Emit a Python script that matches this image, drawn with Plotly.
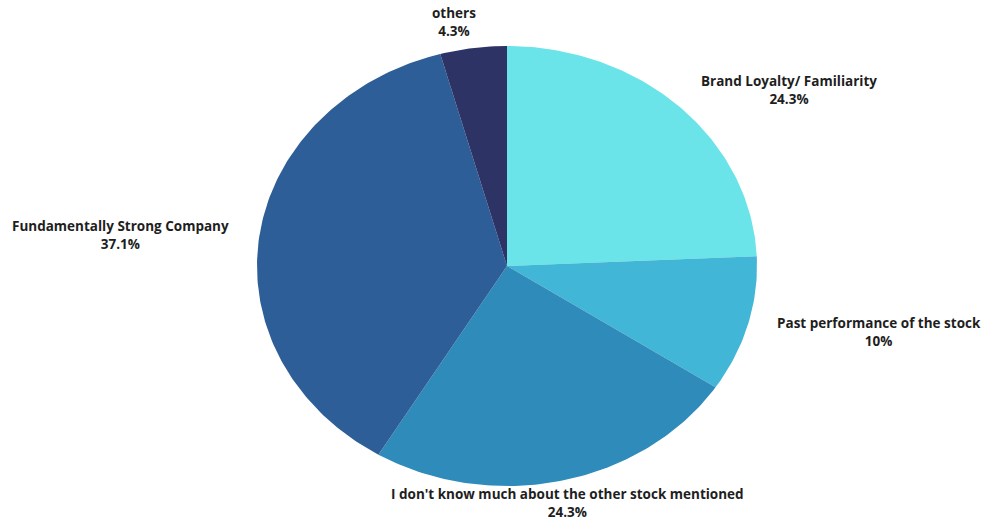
import numpy as np
import plotly.graph_objects as go

# Survey answers: why the stock was chosen
labels = [
    "Brand Loyalty/ Familiarity",
    "Past performance of the stock",
    "I don't know much about the other stock mentioned",
    "Fundamentally Strong Company",
    "others",
]
shares = [24.3, 10, 24.3, 37.1, 4.3]
share_text = ["24.3%", "10%", "24.3%", "37.1%", "4.3%"]
colors = ["#6ae4e9", "#42b6d6", "#2e8bba", "#2d5e97", "#2e3366"]

# Label centres (pixels in the 981x520 canvas)
label_pos = [(789, 90), (879, 332), (567, 503), (120, 235), (454, 22)]

W, H = 981, 520
CX, CY = 507, 266        # pie centre in pixels
RX, RY = 250, 220        # horizontal / vertical radius in pixels

fig = go.Figure()

# Slices drawn clockwise from 12 o'clock on an ellipse in unit coordinates
total = sum(shares)
start = 0.0
for lab, val, col in zip(labels, shares, colors):
    sweep = val / total * 2 * np.pi
    t = np.linspace(start, start + sweep, max(int(val * 4), 8))
    xs = np.concatenate([[0], np.sin(t), [0]])
    ys = np.concatenate([[0], np.cos(t), [0]])
    fig.add_trace(go.Scatter(
        x=xs, y=ys, mode="lines", fill="toself", fillcolor=col,
        line=dict(width=0, color=col), name=lab, hoverinfo="name",
        showlegend=False,
    ))
    start += sweep

for lab, txt, (px, py) in zip(labels, share_text, label_pos):
    fig.add_annotation(
        x=px / W, y=1 - py / H, xref="paper", yref="paper",
        text=f"{lab}<br>{txt}", showarrow=False,
        font=dict(family="Open Sans", size=13.5, color="#1e1e1e", weight="bold"),
        align="center", xanchor="center", yanchor="middle",
    )

fig.update_layout(
    width=W, height=H,
    margin=dict(l=0, r=0, t=0, b=0),
    paper_bgcolor="white", plot_bgcolor="white",
    xaxis=dict(range=[-CX / RX, (W - CX) / RX], visible=False, fixedrange=True),
    yaxis=dict(range=[-(H - CY) / RY, CY / RY], visible=False, fixedrange=True),
)

fig.write_html("out.html")
